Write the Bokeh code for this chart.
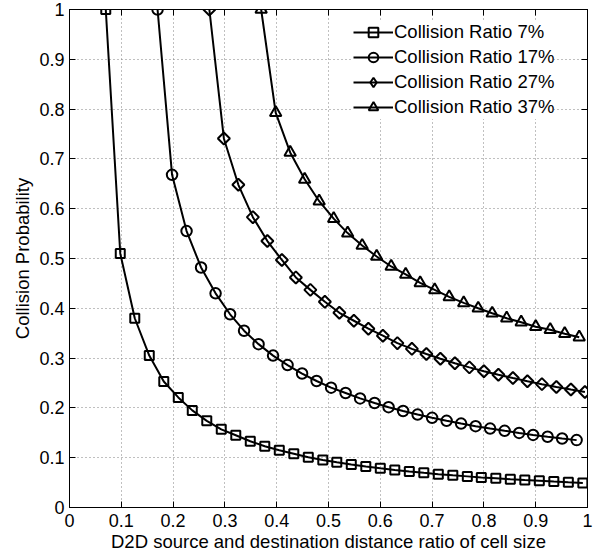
from bokeh.plotting import figure
from bokeh.models import LinearAxis, FixedTicker, Legend, LegendItem, Range1d
from bokeh.embed import file_html
from bokeh.resources import INLINE
import numpy as np

FONT = "Liberation Sans"

# ---- data ----
x_ticks = [0.0, 0.1, 0.2, 0.3, 0.4, 0.5, 0.6, 0.7, 0.8, 0.9, 1.0]
x_tick_labels = ["0", "0.1", "0.2", "0.3", "0.4", "0.5", "0.6", "0.7", "0.8", "0.9", "1"]
y_ticks = [0.0, 0.1, 0.2, 0.3, 0.4, 0.5, 0.6, 0.7, 0.8, 0.9, 1.0]
y_tick_labels = ["0", "0.1", "0.2", "0.3", "0.4", "0.5", "0.6", "0.7", "0.8", "0.9", "1"]

series_names = ["Collision Ratio 7%", "Collision Ratio 17%",
                "Collision Ratio 27%", "Collision Ratio 37%"]

x7 = [0.070, 0.098, 0.126, 0.154, 0.182, 0.210, 0.237, 0.265, 0.293, 0.321,
      0.349, 0.377, 0.405, 0.433, 0.461, 0.489, 0.516, 0.544, 0.572, 0.600,
      0.628, 0.656, 0.684, 0.712, 0.740, 0.768, 0.795, 0.823, 0.851, 0.879,
      0.907, 0.935, 0.963, 0.991]
y7 = [1.0, 0.51, 0.38, 0.305, 0.253, 0.221, 0.195, 0.174, 0.157, 0.145,
      0.133, 0.123, 0.115, 0.108, 0.101, 0.0955, 0.0907, 0.0863, 0.0823, 0.0787,
      0.0754, 0.0723, 0.0696, 0.067, 0.0647, 0.0625, 0.0604, 0.0586, 0.0568, 0.0551,
      0.0536, 0.0521, 0.0507, 0.0494]

x17 = [0.170, 0.198, 0.226, 0.254, 0.282, 0.310, 0.337, 0.365, 0.393, 0.421,
       0.449, 0.477, 0.505, 0.533, 0.561, 0.589, 0.616, 0.644, 0.672, 0.700,
       0.728, 0.756, 0.784, 0.812, 0.840, 0.868, 0.895, 0.923, 0.951, 0.979]
y17 = [1.0, 0.668, 0.555, 0.482, 0.430, 0.388, 0.355, 0.328, 0.305, 0.286,
       0.269, 0.254, 0.2407, 0.230, 0.2191, 0.2098, 0.2014, 0.1937, 0.1866, 0.1801,
       0.1741, 0.1685, 0.1633, 0.1585, 0.154, 0.1498, 0.1458, 0.1421, 0.1386, 0.1353]

x27 = [0.270, 0.298, 0.326, 0.354, 0.382, 0.410, 0.437, 0.465, 0.493, 0.521,
       0.549, 0.577, 0.605, 0.633, 0.661, 0.689, 0.716, 0.744, 0.772, 0.800,
       0.828, 0.856, 0.884, 0.912, 0.940, 0.968, 0.995]
y27 = [1.0, 0.741, 0.648, 0.583, 0.535, 0.497, 0.462, 0.437, 0.413, 0.391,
       0.375, 0.359, 0.345, 0.330, 0.3186, 0.3082, 0.2986, 0.2897, 0.2814, 0.2737,
       0.2666, 0.2599, 0.2536, 0.2477, 0.2421, 0.2369, 0.232]

x37 = [0.370, 0.398, 0.426, 0.454, 0.482, 0.510, 0.537, 0.565, 0.593, 0.621,
       0.649, 0.677, 0.705, 0.733, 0.761, 0.789, 0.816, 0.844, 0.872, 0.900,
       0.928, 0.956, 0.984]
y37 = [1.0, 0.793, 0.713, 0.659, 0.615, 0.580, 0.551, 0.526, 0.504, 0.484,
       0.468, 0.451, 0.437, 0.423, 0.411, 0.400, 0.390, 0.380, 0.372, 0.363,
       0.357, 0.349, 0.342]

# ---- figure ----
p = figure(width=595, height=556,
           x_range=Range1d(0, 1), y_range=Range1d(0, 1),
           output_backend="svg", toolbar_location=None,
           min_border_left=69, min_border_right=8,
           min_border_top=9, min_border_bottom=49)
p.background_fill_color = "white"
p.border_fill_color = "white"
p.outline_line_color = "black"
p.outline_line_width = 1

for ax, ticks, labels in ((p.xaxis[0], x_ticks, x_tick_labels),
                          (p.yaxis[0], y_ticks, y_tick_labels)):
    ax.ticker = FixedTicker(ticks=ticks)
    ax.major_label_overrides = dict(zip(ticks, labels))
    ax.major_tick_in = 6
    ax.major_tick_out = 0
    ax.minor_tick_line_color = None
    ax.axis_line_color = "black"
    ax.major_tick_line_color = "black"
    ax.major_label_text_font = FONT
    ax.major_label_text_font_size = "18px"
    ax.major_label_text_color = "black"
    ax.axis_label_text_font = FONT
    ax.axis_label_text_font_size = "18.5px"
    ax.axis_label_text_font_style = "normal"
    ax.axis_label_text_color = "black"

p.xaxis.axis_label = "D2D source and destination distance ratio of cell size"
p.yaxis.axis_label = "Collision Probability"
p.xaxis.major_label_standoff = 6
p.xaxis.axis_label_standoff = 1
p.yaxis.major_label_standoff = 5
p.yaxis.axis_label_standoff = 3

# mirrored tick axes on top and right (ticks only)
for loc, ticks in (("above", x_ticks), ("right", y_ticks)):
    ax = LinearAxis(ticker=FixedTicker(ticks=ticks))
    ax.major_tick_in = 6
    ax.major_tick_out = 0
    ax.minor_tick_line_color = None
    ax.major_label_text_font_size = "1px"
    ax.major_label_text_color = None
    ax.major_label_standoff = 0
    ax.axis_line_color = "black"
    p.add_layout(ax, loc)

p.xgrid.ticker = FixedTicker(ticks=x_ticks)
p.ygrid.ticker = FixedTicker(ticks=y_ticks)
for g in (p.xgrid, p.ygrid):
    g.grid_line_color = "#808080"
    g.grid_line_dash = "1 3"
    g.grid_line_width = 1

styles = [
    dict(marker="square", size=9, angle=0.0, legend_marker="square"),
    dict(marker="circle", size=10.5, angle=0.0, legend_marker="circle"),
    dict(marker="square", size=8.5, angle=np.pi / 4, legend_marker="diamond"),
    dict(marker="triangle", size=11.5, angle=0.0, legend_marker="triangle"),
]

items = []
for name, xs, ys, st in zip(series_names, (x7, x17, x27, x37), (y7, y17, y27, y37), styles):
    lr = p.line(xs, ys, line_color="black", line_width=2)
    sr = p.scatter(xs, ys, marker=st["marker"], size=st["size"], angle=st["angle"],
                   line_color="black", line_width=2, fill_alpha=0)
    if st["legend_marker"] != st["marker"]:
        # legend-only sample glyph (legend markers are drawn unrotated); NaN keeps it off the plot
        lg = p.scatter(x=[float("nan")], y=[float("nan")], marker=st["legend_marker"],
                       size=st["size"], line_color="black", line_width=2, fill_alpha=0)
        items.append(LegendItem(label=name, renderers=[lr, lg]))
    else:
        items.append(LegendItem(label=name, renderers=[lr, sr]))

legend = Legend(items=items, location=(284, 388))
legend.padding = 6
legend.margin = 0
legend.spacing = 1
legend.glyph_width = 40
legend.glyph_height = 24
legend.label_height = 24
legend.label_standoff = 1
legend.label_text_font = FONT
legend.label_text_font_size = "18.5px"
legend.label_text_color = "black"
legend.border_line_color = None
legend.background_fill_color = "white"
legend.background_fill_alpha = 1
p.add_layout(legend)

open("out.html", "w").write(file_html(p, INLINE))
